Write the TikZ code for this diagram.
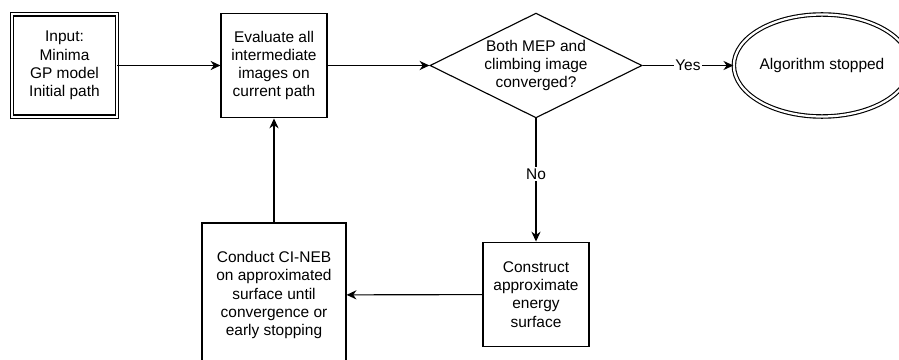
\documentclass[tikz,border=0pt]{standalone}
\usepackage{fontspec}
\setmainfont{Liberation Sans}
\usetikzlibrary{shapes.geometric,arrows.meta}
\tikzset{
  stepbox/.style={draw,line width=0.8pt,align=center,inner sep=0pt,font=\fontsize{11}{13}\selectfont},
  decision/.style={stepbox,diamond,aspect=2},
  lbl/.style={fill=white,inner sep=1pt,font=\fontsize{11}{13}\selectfont}
}
\begin{document}
\begin{tikzpicture}[>={Stealth[length=7pt,width=6.5pt]},x=0.025cm,y=-0.025cm,line width=0.8pt]
\useasboundingbox (0,0) rectangle (899,360);
\clip (0,0) rectangle (899,360);
\node[stepbox,double,double distance=1.6pt,minimum width=2.62cm,minimum height=2.56cm] (input) at (64.5,65.5) {Input:\\Minima\\GP model\\Initial path};
\node[stepbox,minimum width=2.65cm,minimum height=2.62cm] (eval) at (274,65.5) {Evaluate all\\intermediate\\images on\\current path};
\node[decision,minimum width=5.3cm,minimum height=2.62cm] (test) at (536,65.5) {Both MEP and\\climbing image\\converged?};
\node[stepbox,ellipse,double,double distance=1.6pt,minimum width=3.7cm,minimum height=2.55cm] (stop) at (822,65.5) {Algorithm stopped};
\node[stepbox,minimum width=2.65cm,minimum height=2.62cm] (build) at (536,294.5) {Construct\\approximate\\energy\\surface};
\node[stepbox,minimum width=3.6cm,minimum height=3.6cm] (neb) at (274,295) {Conduct CI-NEB\\on approximated\\surface until\\convergence or\\early stopping};
\draw[->] (input) -- (eval);
\draw[->] (eval) -- (test);
\draw[->] (test) -- node[lbl]{Yes} (stop);
\draw[->] (test) -- node[lbl,pos=0.45]{No} (build);
\draw[->] (build) -- (neb);
\draw[->] (neb) -- (eval);
\end{tikzpicture}
\end{document}
